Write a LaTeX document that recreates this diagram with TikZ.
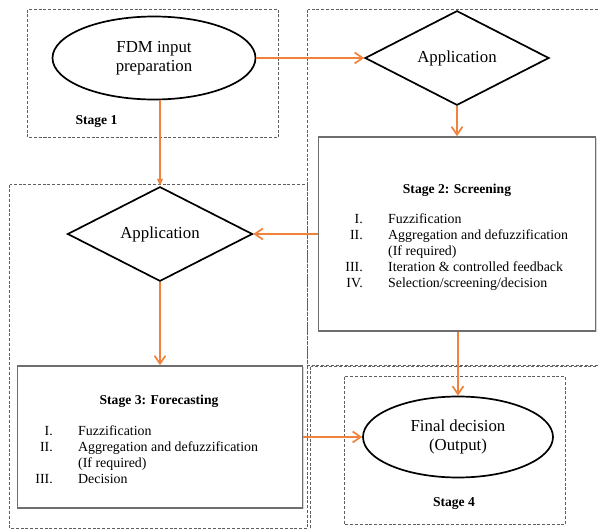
\documentclass[tikz,border=0pt]{standalone}
\usepackage{fontspec}
\setmainfont{Liberation Serif}
\usetikzlibrary{shapes.geometric,arrows.meta,shadows}
\definecolor{arr}{RGB}{240,130,60}
\definecolor{boxgray}{RGB}{110,110,110}
\definecolor{dashgray}{RGB}{95,95,95}
\begin{document}
\begin{tikzpicture}[x=1pt,y=-1pt,
  bigtxt/.style={font=\fontsize{16.8}{19.5}\selectfont},
  smalltxt/.style={font=\fontsize{13.9}{16}\selectfont, inner sep=0pt},
  lbl/.style={font=\bfseries\fontsize{13.6}{16}\selectfont, inner sep=0pt},
  ell/.style={draw=black, line width=1.7pt, ellipse, inner sep=0pt, align=center, bigtxt},
  dia/.style={draw=black, line width=1.7pt, diamond, inner sep=0pt, bigtxt},
  solidbox/.style={draw=boxgray, line width=1.6pt, rectangle, inner sep=0pt, fill=white,
     drop shadow={shadow xshift=1.3pt, shadow yshift=-1.3pt, fill=black!30}},
  stagebox/.style={draw=dashgray, line width=1pt, dash pattern=on 3pt off 1.8pt},
  flow/.style={draw=arr, line width=1.7pt, -{Straight Barb[length=8pt,width=11pt]}},
  flowfill/.style={draw=arr, line width=1.7pt, -{Triangle[length=7pt,width=5.5pt]}}
]
\useasboundingbox (0,0) rectangle (598,530);
\begin{scope}
  \clip (0,0) rectangle (598,530);
  \draw[stagebox] (27.5,9.5) rectangle (278.5,137.5);
  \draw[stagebox] (307.5,9.5) rectangle (615,365.5);
  \draw[stagebox] (9.5,184.5) rectangle (307.5,528.5);
  \draw[stagebox] (310.5,366.5) rectangle (615,548);
  \draw[stagebox] (344.5,376.5) rectangle (565.5,524.5);
\end{scope}

% Stage 1
\node[ell, minimum width=203pt, minimum height=83pt] (e1) at (154,58) {FDM input\\preparation};
\node[lbl, anchor=base] (l1) at (96.5,124) {Stage 1};

% Stage 2
\node[dia, minimum width=184pt, minimum height=81pt] (d1) at (457,58) {Application};
\node[solidbox, minimum width=277pt, minimum height=194pt] (s2) at (457,234) {};
\node[lbl, anchor=base] (s2t) at (457,193) {Stage 2: Screening};
\node[smalltxt, anchor=base east] (s2n1) at (363,223) {I.};
\node[smalltxt, anchor=base west] (s2i1) at (388,223) {Fuzzification};
\node[smalltxt, anchor=base east] (s2n2) at (363,239) {II.};
\node[smalltxt, anchor=base west] (s2i2) at (388,239) {Aggregation and defuzzification};
\node[smalltxt, anchor=base west] (s2i2b) at (388,255) {(If required)};
\node[smalltxt, anchor=base east] (s2n3) at (363,271) {III.};
\node[smalltxt, anchor=base west] (s2i3) at (388,271) {Iteration \& controlled feedback};
\node[smalltxt, anchor=base east] (s2n4) at (363,287) {IV.};
\node[smalltxt, anchor=base west] (s2i4) at (388,287) {Selection/screening/decision};

% Stage 3
\node[dia, minimum width=185pt, minimum height=81pt] (d2) at (160,234) {Application};
\node[solidbox, minimum width=285pt, minimum height=142pt] (s3) at (160,437) {};
\node[lbl, anchor=base] (s3t) at (159,404) {Stage 3: Forecasting};
\node[smalltxt, anchor=base east] (s3n1) at (53,435) {I.};
\node[smalltxt, anchor=base west] (s3i1) at (78,435) {Fuzzification};
\node[smalltxt, anchor=base east] (s3n2) at (53,451) {II.};
\node[smalltxt, anchor=base west] (s3i2) at (78,451) {Aggregation and defuzzification};
\node[smalltxt, anchor=base west] (s3i2b) at (78,467) {(If required)};
\node[smalltxt, anchor=base east] (s3n3) at (53,483) {III.};
\node[smalltxt, anchor=base west] (s3i3) at (78,483) {Decision};

% Stage 4
\node[ell, minimum width=190pt, minimum height=81pt] (e2) at (458,437) {Final decision\\(Output)};
\node[lbl, anchor=base] (l4) at (454,506) {Stage 4};

% connectors
\draw[flow] (e1.east) -- (d1.west);
\draw[flow] (d1.south) -- (d1.south |- s2.north);
\draw[flow] (s2.west |- d2.east) -- (d2.east);
\draw[flowfill] (d2.north |- e1.south) -- (d2.north);
\draw[flow] (d2.south) -- (d2.south |- s3.north);
\draw[flow] (s3.east |- e2.west) -- (e2.west);
\draw[flow] (e2.north |- s2.south) -- (e2.north);
\end{tikzpicture}
\end{document}
